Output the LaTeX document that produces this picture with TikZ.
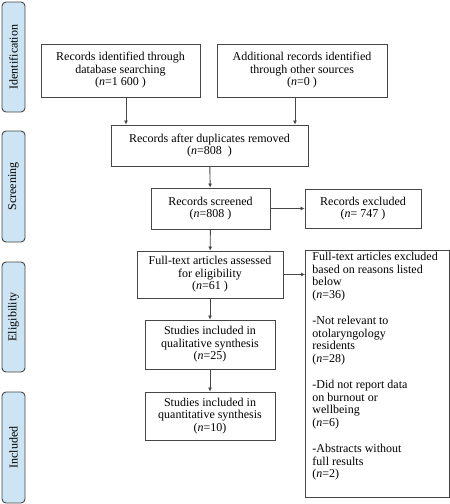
\documentclass[tikz,border=0pt]{standalone}
\usepackage{fontspec}
\setmainfont{Liberation Serif}
\usetikzlibrary{arrows.meta}
\definecolor{stagefill}{RGB}{204,228,243}
\definecolor{linegray}{RGB}{70,70,70}
\tikzstyle{box} = [draw=linegray, line width=0.9pt, rectangle, align=center, inner sep=2pt, font=\fontsize{12}{12.5}\selectfont]
\tikzstyle{stage} = [draw=linegray, line width=0.9pt, rounded corners=4pt, fill=stagefill, minimum height=23pt, rotate=90, font=\fontsize{12}{12.5}\selectfont]
\tikzstyle{arr} = [draw=linegray, line width=0.9pt, -{Latex[length=4pt,width=4pt]}]

\begin{document}
\begin{tikzpicture}[x=1pt, y=-1pt]
    \useasboundingbox (0,0) rectangle (450,504);
    % stages
    \node[stage, minimum width=110pt] (idn) at (13.5,57) {Identification};
    \node[stage, minimum width=111pt] (scr) at (13.5,186.5) {Screening};
    \node[stage, minimum width=110pt] (elg) at (13.5,317) {Eligibility};
    \node[stage, minimum width=111pt] (inc) at (13.5,447.5) {Included};
    % boxes
    \node[box, minimum width=159pt, minimum height=53pt] (db) at (120.5,70.5) {Records identified through\\database searching\\(\textit{n}=1 600 )};
    \node[box, minimum width=170pt, minimum height=53pt] (other) at (302,70.5) {Additional records identified\\through other sources\\(\textit{n}=0 )};
    \node[box, minimum width=197pt, minimum height=41pt] (dup) at (209.5,145.5) {Records after duplicates removed\\(\textit{n}=808\ \ )};
    \node[box, minimum width=119pt, minimum height=41pt] (scrd) at (210.5,208.5) {Records screened\\(\textit{n}=808 )};
    \node[box, minimum width=116pt, minimum height=39pt] (excl) at (363,208.5) {Records excluded\\(\textit{n}= 747 )};
    \node[box, minimum width=146pt, minimum height=47pt] (full) at (210,274.5) {Full-text articles assessed\\for eligibility\\(\textit{n}=61 )};
    \node[box, minimum width=144pt, minimum height=247pt, anchor=north west, inner sep=0pt] (fexcl) at (305,250) {\parbox[c][243pt][t]{130pt}{\raggedright
        Full-text articles excluded\\based on reasons listed\\below\\(\textit{n}=36)\\[14pt]
        -Not relevant to\\otolaryngology\\residents\\(\textit{n}=28)\\[14pt]
        -Did not report data\\on burnout or\\wellbeing\\(\textit{n}=6)\\[14pt]
        -Abstracts without\\full results\\(\textit{n}=2)}};
    \node[box, minimum width=130pt, minimum height=49pt] (qual) at (210,344.5) {Studies included in\\qualitative synthesis\\(\textit{n}=25)};
    \node[box, minimum width=130pt, minimum height=48pt] (quant) at (210,416) {Studies included in\\quantitative synthesis\\(\textit{n}=10)};
    % arrows
    \draw[arr] ([xshift=5.5pt]db.south) -- ([xshift=5.5pt]db.south |- dup.north);
    \draw[arr] ([xshift=-7pt]other.south) -- ([xshift=-7pt]other.south |- dup.north);
    \draw[arr] (dup) -- (scrd);
    \draw[arr] (scrd) -- (excl);
    \draw[arr] (scrd) -- (full);
    \draw[arr] (full.east) -- (full.east -| fexcl.west);
    \draw[arr] (full) -- (qual);
    \draw[arr] (qual) -- (quant);
\end{tikzpicture}
\end{document}
